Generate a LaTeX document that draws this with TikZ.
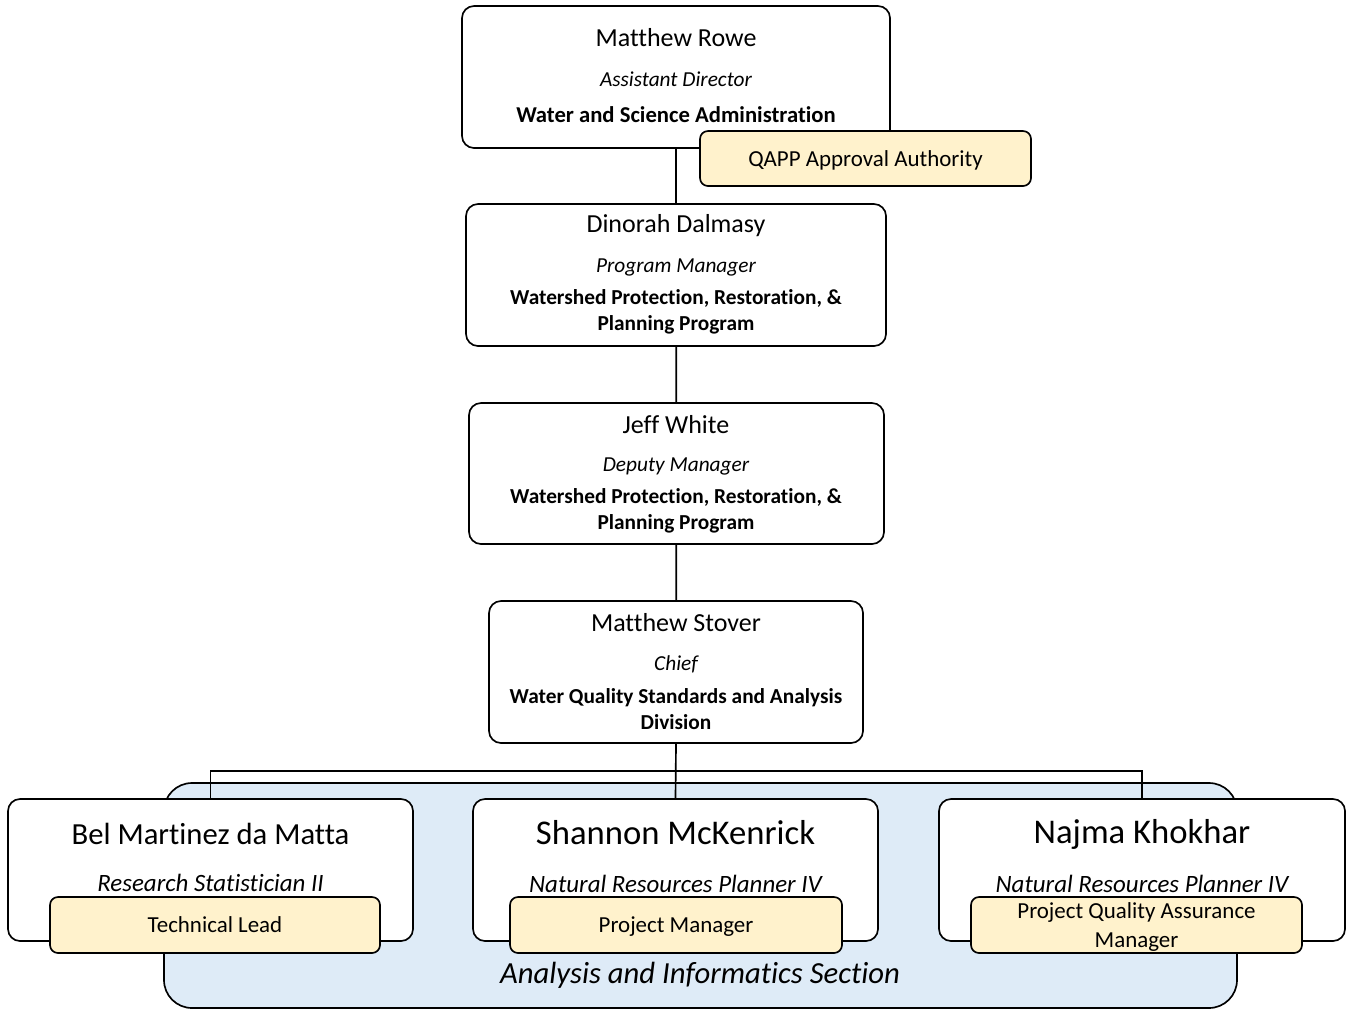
\documentclass[tikz,border=0pt]{standalone}
\usepackage{fontspec}
\setmainfont{Carlito}[Ligatures=CommonOff]
\usetikzlibrary{positioning}
\definecolor{rolefill}{HTML}{FFF2CC}
\definecolor{sectionfill}{HTML}{DEEBF7}
\pgfdeclarelayer{sectionlayer}
\pgfdeclarelayer{linklayer}
\pgfsetlayers{sectionlayer,linklayer,main}

\tikzset{
  person/.style={draw=black, line width=1.25pt, rounded corners=9pt, fill=white, inner sep=0pt},
  role/.style={draw=black, line width=1.25pt, rounded corners=6pt, fill=rolefill, inner sep=0pt, align=center,
    text depth=0pt, font=\fontsize{17.2}{21.5}\selectfont},
  section/.style={draw=black, line width=1.25pt, rounded corners=21pt, fill=sectionfill, inner sep=0pt},
  link/.style={draw=black, line width=1.25pt},
  pname/.style={font=\fontsize{19.5}{23}\selectfont},
  ptitle/.style={font=\fontsize{16}{19}\selectfont\itshape},
  punit/.style={font=\fontsize{16}{19.5}\selectfont\bfseries, align=center},
  sname/.style={font=\fontsize{26}{30}\selectfont},
  stitle/.style={font=\fontsize{18.7}{22}\selectfont\itshape},
}

\begin{document}
\begin{tikzpicture}[x=0.75pt, y=-0.75pt]
    \useasboundingbox (0,0) rectangle (1346,1011);

    % Chain of command
    \node[person, minimum width=321pt, minimum height=106.5pt] (rowe) at (676,77) {};
    \node[person, minimum width=315pt, minimum height=106.5pt] (dalmasy) at (676,275) {};
    \node[person, minimum width=311.25pt, minimum height=105.75pt] (white) at (676.5,473.5) {};
    \node[person, minimum width=280.5pt, minimum height=106.5pt] (stover) at (676,672) {};

    \node[pname] (rowe name) at (676,38) {Matthew Rowe};
    \node[ptitle] (rowe title) at (676,79) {Assistant Director};
    \node[punit, font=\fontsize{17}{20}\selectfont\bfseries] (rowe unit) at (676,115) {Water and Science Administration};

    \node[pname] (dalmasy name) at (676,226) {Dinorah Dalmasy};
    \node[ptitle] (dalmasy title) at (676,267) {Program Manager};
    \node[punit] (dalmasy unit) at (676,312) {Watershed Protection, Restoration, \&\\Planning Program};

    \node[pname] (white name) at (676,425) {Jeff White};
    \node[ptitle] (white title) at (676,466) {Deputy Manager};
    \node[punit] (white unit) at (676,511) {Watershed Protection, Restoration, \&\\Planning Program};

    \node[pname] (stover name) at (676,623) {Matthew Stover};
    \node[ptitle] (stover title) at (676,664) {Chief};
    \node[punit] (stover unit) at (676,709.5) {Water Quality Standards and Analysis\\Division};

    % Analysis and Informatics Section
    \node[person, minimum width=303.75pt, minimum height=106.5pt] (bel) at (210.5,870) {};
    \node[person, minimum width=303.75pt, minimum height=106.5pt] (shannon) at (675.5,870) {};
    \node[person, minimum width=304.5pt, minimum height=106.5pt] (najma) at (1142,870) {};

    \node[font=\fontsize{23}{27}\selectfont] (bel name) at (210.5,834) {Bel Martinez da Matta};
    \node[stitle] (bel title) at (210.5,883) {Research Statistician II};
    \node[sname] (shannon name) at (675.5,833) {Shannon McKenrick};
    \node[stitle] (shannon title) at (675.5,884) {Natural Resources Planner IV};
    \node[sname] (najma name) at (1142,834) {Najma Khokhar};
    \node[stitle] (najma title) at (1142,884) {Natural Resources Planner IV};

    \begin{pgfonlayer}{sectionlayer}
    \node[section, minimum width=804.75pt, minimum height=168.75pt] (aisec) at (700.5,895.5) {};
    \end{pgfonlayer}
    \node[font=\fontsize{23}{27}\selectfont\itshape] (aisec label) at (700,975) {Analysis and Informatics Section};

    % Roles
    \node[role, minimum width=248.25pt, minimum height=41.25pt] (qapp) at (865.5,158.5) {QAPP Approval Authority};
    \node[role, minimum width=247.5pt, minimum height=42pt] (techlead) at (215,925) {Technical Lead};
    \node[role, minimum width=249pt, minimum height=42pt] (projmgr) at (676,925) {Project Manager};
    \node[role, minimum width=248.25pt, minimum height=42pt] (pqam) at (1136.5,925) {Project Quality Assurance\\Manager};

    % Connectors
    \coordinate (bus) at (676,771);
    \begin{pgfonlayer}{linklayer}
    \draw[link] (rowe) -- (dalmasy);
    \draw[link] (dalmasy) -- (white);
    \draw[link] (white) -- (stover);
    \draw[link] (stover.south) -- (shannon.north);
    \draw[link] (bel.north) |- (bus) -| (najma.north);
    \end{pgfonlayer}
\end{tikzpicture}
\end{document}
